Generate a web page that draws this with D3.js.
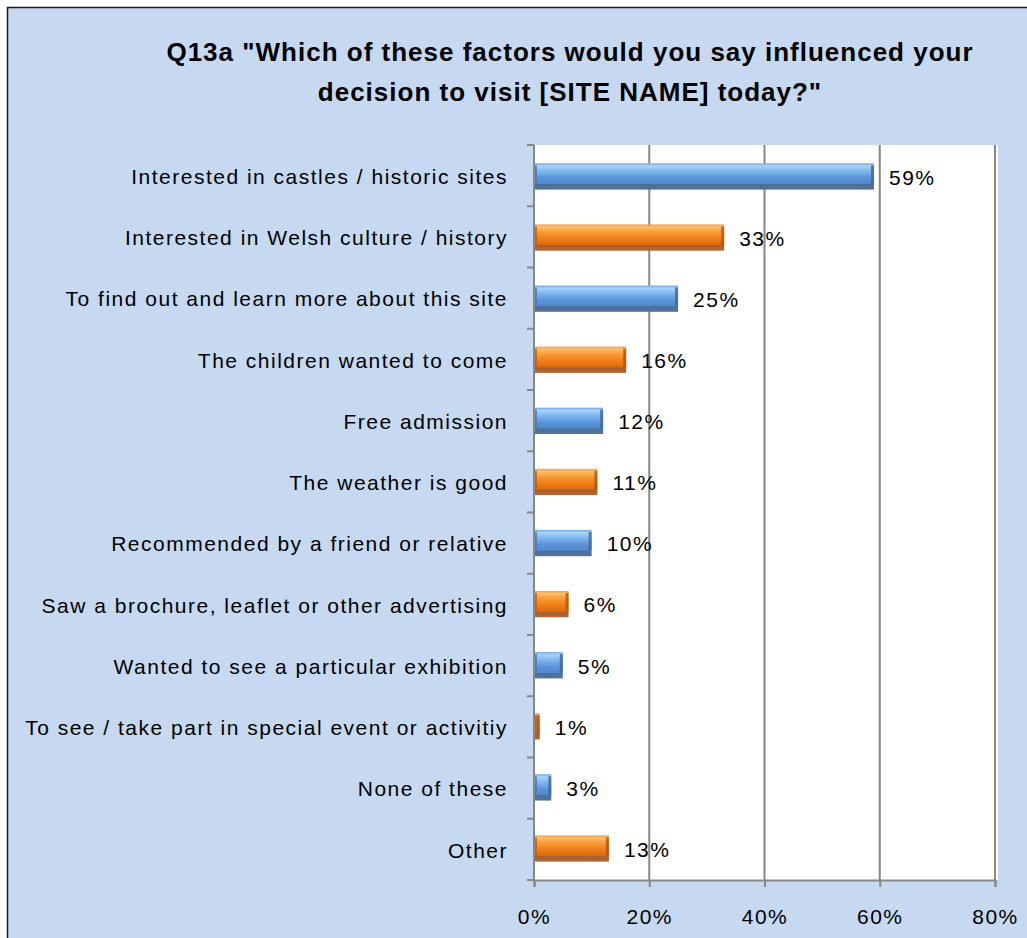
<!DOCTYPE html>
<html>
<head>
<meta charset="utf-8">
<script src="https://cdn.jsdelivr.net/npm/d3@7"></script>
<style>
  body { margin: 0; background: #fff; }
  svg { display: block; }
</style>
</head>
<body>
<div id="chart"></div>
<script>
var categories = ["Interested in castles / historic sites", "Interested in Welsh culture / history",
  "To find out and learn more about this site", "The children wanted to come", "Free admission",
  "The weather is good", "Recommended by a friend or relative", "Saw a brochure, leaflet or other advertising",
  "Wanted to see a particular exhibition", "To see / take part in special event or activitiy",
  "None of these", "Other"];
var values = [59, 33, 25, 16, 12, 11, 10, 6, 5, 1, 3, 13];
var tickValues = [0, 20, 40, 60, 80];
var titleLines = ["Q13a \"Which of these factors would you say influenced your", "decision to visit [SITE NAME] today?\""];

var W = 1027, H = 938;
var plot = { left: 534, right: 995, top: 145, bottom: 880 };
var font = "'Liberation Sans', Arial, sans-serif";

var svg = d3.select("#chart").append("svg")
  .attr("width", W)
  .attr("height", H);

// gradients for the bevelled bars
var defs = svg.append("defs");
function grad(id, stops, horiz) {
  var g = defs.append("linearGradient").attr("id", id)
    .attr("x1", 0).attr("y1", 0).attr("x2", horiz ? 1 : 0).attr("y2", horiz ? 0 : 1);
  stops.forEach(function(s) {
    g.append("stop").attr("offset", s[0]).attr("stop-color", s[1]).attr("stop-opacity", s[2] == null ? 1 : s[2]);
  });
}
grad("blue", [[0, "#6fa3e0"], [0.1, "#a9d4fb"], [0.28, "#82b9f0"], [0.55, "#5b95d8"], [0.78, "#5088cc"], [0.8, "#4a6f9c"], [1, "#52729a"]]);
grad("orange", [[0, "#f59b4f"], [0.1, "#fcc06a"], [0.28, "#fa9c38"], [0.55, "#ee7d17"], [0.78, "#dd6a0c"], [0.8, "#a85d29"], [1, "#b36a36"]]);

// chart background
svg.append("rect")
  .attr("x", 7.5).attr("y", 7.5)
  .attr("width", W + 20).attr("height", H + 20)
  .attr("fill", "#c6d9f0")
  .attr("stroke", "#1a1a1a")
  .attr("stroke-width", 1.5);

// plot area
svg.append("rect")
  .attr("x", plot.left).attr("y", plot.top)
  .attr("width", plot.right - plot.left + 3).attr("height", plot.bottom - plot.top)
  .attr("fill", "#ffffff");

var x = d3.scaleLinear().domain([0, 80]).range([plot.left, plot.right]);
var y = d3.scaleBand().domain(categories).range([plot.top, plot.bottom]).paddingInner(0.57).paddingOuter(0.3);
var yb = d3.scaleBand().domain(categories).range([plot.top, plot.bottom]);

// gridlines
svg.append("g").selectAll("line")
  .data(tickValues.slice(1))
  .enter().append("line")
  .attr("x1", function(d) { return x(d); })
  .attr("x2", function(d) { return x(d); })
  .attr("y1", plot.top)
  .attr("y2", plot.bottom)
  .attr("stroke", "#878787")
  .attr("stroke-width", 2);

// bars
var bars = svg.append("g").selectAll("g")
  .data(values)
  .enter().append("g");
bars.append("rect")
  .attr("x", x(0))
  .attr("y", function(d, i) { return y(categories[i]); })
  .attr("width", function(d) { return x(d) - x(0); })
  .attr("height", y.bandwidth())
  .attr("fill", function(d, i) { return i % 2 == 0 ? "url(#blue)" : "url(#orange)"; });
// darker bevel ends
bars.append("rect")
  .attr("x", function(d) { return x(d) - 3; })
  .attr("y", function(d, i) { return y(categories[i]) + 2; })
  .attr("width", function(d) { return Math.min(3, x(d) - x(0)); })
  .attr("height", y.bandwidth() * 0.78 - 2)
  .attr("fill", function(d, i) { return i % 2 == 0 ? "#3d6699" : "#b4520c"; })
  .attr("opacity", 0.8);
bars.append("rect")
  .attr("x", x(0))
  .attr("y", function(d, i) { return y(categories[i]) + 2; })
  .attr("width", function(d) { return Math.min(3, x(d) - x(0)); })
  .attr("height", y.bandwidth() * 0.78 - 2)
  .attr("fill", function(d, i) { return i % 2 == 0 ? "#4579bd" : "#c95d08"; })
  .attr("opacity", 0.8);

// value labels
svg.append("g").selectAll("text")
  .data(values)
  .enter().append("text")
  .attr("x", function(d) { return x(d) + 15; })
  .attr("y", function(d, i) { return y(categories[i]) + y.bandwidth() / 2 + 1; })
  .attr("dy", "0.35em")
  .attr("font-family", font)
  .attr("font-size", "21px")
  .attr("letter-spacing", "1.5px")
  .attr("fill", "#000")
  .text(function(d) { return d + "%"; });

// x axis
var xAxis = svg.append("g")
  .attr("transform", "translate(0," + plot.bottom + ")")
  .call(d3.axisBottom(x).tickValues(tickValues).tickSize(7).tickPadding(22).tickFormat(function(d) { return d + "%"; }));
xAxis.select(".domain").attr("stroke", "#878787").attr("stroke-width", 2);
xAxis.selectAll(".tick line").attr("stroke", "#878787").attr("stroke-width", 2);
xAxis.selectAll("text").attr("font-family", font).attr("font-size", "21px").attr("letter-spacing", "1.5px").attr("fill", "#000");

// y axis: ticks between categories
var yAxis = svg.append("g");
yAxis.append("line")
  .attr("x1", plot.left).attr("x2", plot.left)
  .attr("y1", plot.top).attr("y2", plot.bottom)
  .attr("stroke", "#878787").attr("stroke-width", 2);
yAxis.selectAll("line.tk")
  .data(categories.concat([null]))
  .enter().append("line")
  .attr("class", "tk")
  .attr("x1", plot.left - 7).attr("x2", plot.left)
  .attr("y1", function(d, i) { return plot.top + i * yb.step(); })
  .attr("y2", function(d, i) { return plot.top + i * yb.step(); })
  .attr("stroke", "#878787").attr("stroke-width", 2);
yAxis.selectAll("text")
  .data(categories)
  .enter().append("text")
  .attr("x", 508)
  .attr("y", function(d) { return yb(d) + yb.bandwidth() / 2 + 1; })
  .attr("dy", "0.35em")
  .attr("text-anchor", "end")
  .attr("font-family", font)
  .attr("font-size", "21px")
  .attr("letter-spacing", "1.5px")
  .attr("fill", "#000")
  .text(function(d) { return d; });

// title
svg.append("g").selectAll("text")
  .data(titleLines)
  .enter().append("text")
  .attr("x", 570)
  .attr("y", function(d, i) { return 61 + i * 40; })
  .attr("text-anchor", "middle")
  .attr("font-family", font)
  .attr("font-weight", "bold")
  .attr("font-size", "26px")
  .attr("letter-spacing", "1px")
  .attr("fill", "#000")
  .text(function(d) { return d; });
</script>
</body>
</html>
